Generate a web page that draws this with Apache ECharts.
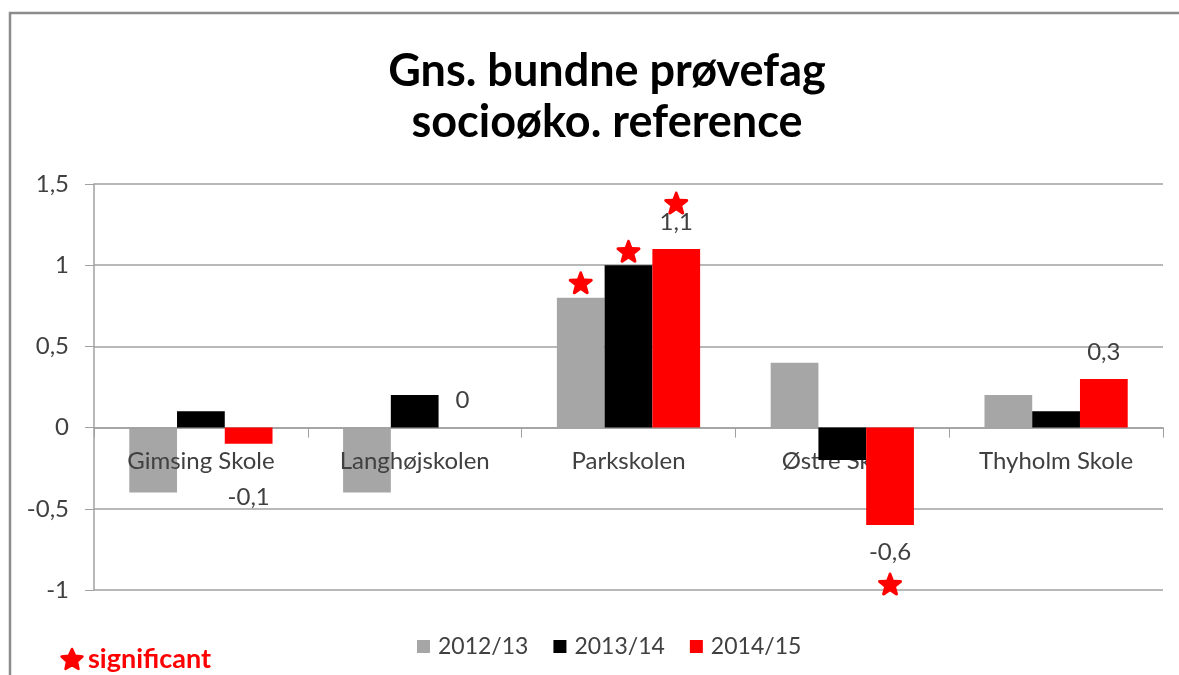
<!doctype html>
<html>
<head>
    <meta charset="utf-8">
    <title>Gns. bundne prøvefag</title>
    <script src="https://cdn.jsdelivr.net/npm/echarts@6/dist/echarts.min.js"></script>
    <style>
        html, body{ margin:0; padding:0; background:#fff; }
        #chartBox{ width:1179px; height:675px; }
    </style>
</head>
<body>
<div id="chartBox"></div>
<script type="text/javascript">
    // skoler og år
    var schools = ['Gimsing Skole', 'Langhøjskolen', 'Parkskolen', 'Østre Skole', 'Thyholm Skole'];
    var years = ['2012/13', '2013/14', '2014/15'];
    var yTicks = [-1, -0.5, 0, 0.5, 1, 1.5];

    // værdier pr. år
    var v1213 = [-0.4, -0.4, 0.8, 0.4, 0.2];
    var v1314 = [0.1, 0.2, 1.0, -0.2, 0.1];
    var v1415 = [-0.1, 0, 1.1, -0.6, 0.3];

    // signifikant (1 = stjerne)
    var sig1213 = [0, 0, 1, 0, 0];
    var sig1314 = [0, 0, 1, 0, 0];
    var sig1415 = [0, 0, 1, 1, 0];

    var colors = ['#a6a6a6', '#000000', '#ff0000'];
    var FONT = 'Lato';
    var starPath = 'path://M12,0.8 C12.6,0.8 13,1.3 13.3,2 L15.4,7.6 L21.8,7.9 C23.3,8 23.8,9.6 22.7,10.5 L17.7,14.4 L19.4,20.6 C19.8,22 18.4,23 17.2,22.2 L12,18.7 L6.8,22.2 C5.6,23 4.2,22 4.6,20.6 L6.3,14.4 L1.3,10.5 C0.2,9.6 0.7,8 2.2,7.9 L8.6,7.6 L10.7,2 C11,1.3 11.4,0.8 12,0.8 Z';

    // grid: nul-linjen ligger 1/2.5 af højden over bunden
    var gridTop = 184, gridBottom = 85, chartH = 675;
    var zeroShift = (chartH - gridTop - gridBottom) * (0 - yTicks[0]) / (yTicks[yTicks.length - 1] - yTicks[0]);

    function fmt(v){
        return String(v).replace('.', ',');
    }

    // stjerne til forklaringen nederst
    function starPoints(cx, cy, r){
        var pts = [];
        for (var k = 0; k < 10; k++) {
            var rr = k % 2 === 0 ? r : r * 0.48;
            var a = -Math.PI / 2 + k * Math.PI / 5;
            pts.push([cx + rr * Math.cos(a), cy + rr * Math.sin(a)]);
        }
        return pts;
    }

    // stjerner via markPoint, lige over/under søjlen
    function stars(vals, sig, offsets){
        var out = [];
        for (var i = 0; i < vals.length; i++) {
            if (sig[i]) {
                out.push({
                    coord: [i, vals[i]],
                    symbolOffset: [0, offsets[i]]
                });
            }
        }
        return {
            symbol: starPath,
            symbolSize: [24, 23],
            itemStyle: { color: '#ff0000' },
            label: { show: false },
            data: out
        };
    }

    function redData(){
        return v1415.map(function(v, i){
            var neg = v < 0;
            return {
                value: v,
                label: {
                    position: neg ? 'bottom' : 'top',
                    distance: i === 0 ? 41 : 15
                }
            };
        });
    }

    var myChart = echarts.init(document.getElementById('chartBox'));
    var option = {
        animation: false,
        backgroundColor: '#fff',
        textStyle: { fontFamily: FONT },
        title: {
            text: 'Gns. bundne prøvefag\nsocioøko. reference',
            left: 602,
            top: 41,
            textAlign: 'center',
            textStyle: {
                fontFamily: FONT,
                fontSize: 45,
                fontWeight: 'bold',
                color: '#000',
                lineHeight: 51
            }
        },
        legend: {
            data: years,
            left: 412,
            top: 630,
            icon: 'rect',
            itemWidth: 13,
            itemHeight: 13,
            itemGap: 25,
            textStyle: { fontFamily: FONT, fontSize: 23, color: '#404040', padding: [0, 0, 0, 3] }
        },
        grid: {
            left: 94,
            right: 16,
            top: gridTop,
            bottom: gridBottom,
            containLabel: false
        },
        xAxis: {
            type: 'category',
            data: schools,
            position: 'bottom',
            offset: -zeroShift,
            z: 1.5,
            axisLine: { onZero: false, lineStyle: { color: '#a0a0a0', width: 1.5 } },
            axisTick: { show: true, length: 10, lineStyle: { color: '#a0a0a0' } },
            axisLabel: { fontFamily: FONT, fontSize: 24, color: '#404040', margin: 22 }
        },
        yAxis: {
            type: 'value',
            min: yTicks[0],
            max: yTicks[yTicks.length - 1],
            interval: 0.5,
            z: 0,
            axisLine: { show: true, lineStyle: { color: '#a0a0a0', width: 1.5 } },
            axisTick: { show: true, inside: false, length: 9, lineStyle: { color: '#a0a0a0' } },
            splitLine: { lineStyle: { color: '#a0a0a0', width: 1.5 } },
            axisLabel: {
                fontFamily: FONT, fontSize: 24, color: '#404040', margin: 25,
                formatter: function(v){ return fmt(v); }
            }
        },
        series: [{
            name: years[0],
            type: 'bar',
            z: 1,
            data: v1213,
            barGap: '0%',
            barCategoryGap: '33%',
            itemStyle: { color: colors[0] },
            markPoint: stars(v1213, sig1213, [0, 0, -15, 0, 0])
        }, {
            name: years[1],
            type: 'bar',
            z: 2,
            data: v1314,
            barGap: '0%',
            barCategoryGap: '33%',
            itemStyle: { color: colors[1] },
            markPoint: stars(v1314, sig1314, [0, 0, -14, 0, 0])
        }, {
            name: years[2],
            type: 'bar',
            z: 2,
            data: redData(),
            barGap: '0%',
            barCategoryGap: '33%',
            itemStyle: { color: colors[2] },
            label: {
                show: true,
                fontFamily: FONT,
                fontSize: 24,
                color: '#404040',
                formatter: function(p){ return fmt(p.value); }
            },
            markPoint: stars(v1415, sig1415, [0, 0, -46, 59, 0])
        }],
        graphic: [{
            type: 'rect',
            shape: { x: 10, y: 13, width: 1300, height: 800 },
            style: { fill: 'none', stroke: '#8c8c8c', lineWidth: 2.5 },
            silent: true
        }, {
            type: 'polygon',
            shape: { points: starPoints(72, 660, 11) },
            style: { fill: '#ff0000', stroke: '#ff0000', lineWidth: 2.5, lineJoin: 'round' },
            silent: true
        }, {
            type: 'text',
            left: 88,
            top: 646,
            style: {
                text: 'significant',
                fill: '#ff0000',
                font: 'bold 27px ' + FONT
            }
        }]
    };
    myChart.setOption(option);
</script>
</body>
</html>
